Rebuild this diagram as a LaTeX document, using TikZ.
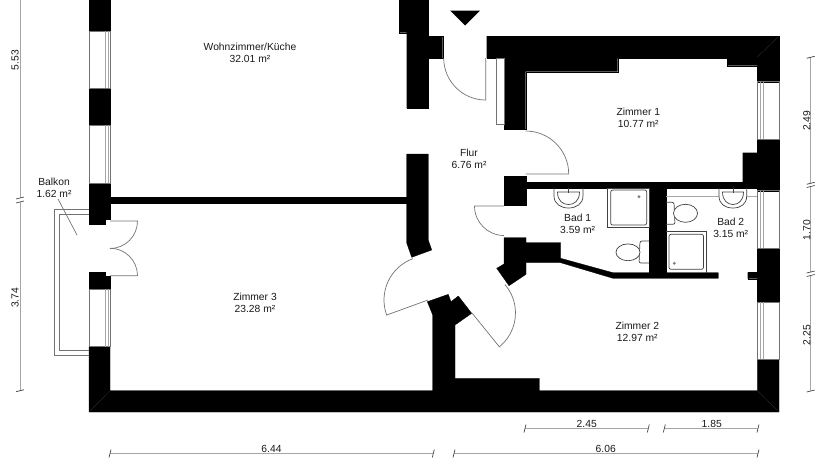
\documentclass[tikz,border=0pt]{standalone}
\usepackage{fontspec}
\setmainfont{Liberation Sans}
\tikzset{
    wall/.style={fill=black,draw=black,line width=0.3pt},
    thinline/.style={draw=black!55,line width=0.7pt},
    fixture/.style={draw=black!75,line width=0.7pt},
    measure/.style={draw=black!35,line width=1pt},
    tick/.style={draw=black!75,line width=0.7pt},
    roomlabel/.style={font=\fontsize{10.3}{12}\selectfont,text=black!90,align=center,inner sep=0pt},
}

\begin{document}
\begin{tikzpicture}[x=1pt,y=-1pt]
    \useasboundingbox (0,0) rectangle (835,467);

    % walls
    \fill[wall] (89,0) -- (110,0) -- (110,31) -- (89,31) -- cycle;
    \fill[wall] (89,88) rectangle (110,125);
    \fill[wall] (89,183) -- (110,183) -- (110,219.5) -- (105,219.5) -- (105,224) -- (89,224) -- cycle;
    \fill[wall] (89,272) -- (105,272) -- (105,276.5) -- (110,276.5) -- (110,289) -- (89,289) -- cycle;
    \fill[wall] (110,197.5) rectangle (407,203.5);
    \fill[wall] (399,0) -- (428.3,0) -- (428.3,36) -- (442.7,36) -- (442.7,58) -- (428.3,58) -- (428.3,108) -- (406.7,108) -- (406.7,32.7) -- (399,32.7) -- cycle;
    \fill[wall] (406.7,154) -- (428.3,154) -- (428.3,240) -- (431.7,250) -- (411.7,257.3) -- (406.7,243) -- cycle;
    \fill[wall] (89,346.7) -- (110,346.7) -- (110,390.7) -- (432.7,390.7) -- (432.7,315) -- (427.3,301.7) -- (448.3,294.3) -- (451,301.7) -- (458.3,296) -- (471.7,313.3) -- (455,325) -- (455,378.3) -- (539.3,378.3) -- (539.3,390.7) -- (757.3,390.7) -- (757.3,359.3) -- (779,359.3) -- (779,412) -- (89,412) -- cycle;
    \fill[wall] (486.7,36) -- (779,36) -- (779,81.7) -- (757.3,81.7) -- (757.3,65.7) -- (727.3,65.7) -- (727.3,58.3) -- (617.7,58.3) -- (617.7,71.7) -- (525.7,71.7) -- (525.7,129) -- (504,129) -- (504,58) -- (486.7,58) -- cycle;
    \fill[wall] (757.3,139) -- (779,139) -- (779,190.7) -- (757.3,190.7) -- (757.3,188) -- (526,188) -- (526,205) -- (504,205) -- (504,176) -- (526,176) -- (526,182.3) -- (742.7,182.3) -- (742.7,152.7) -- (757.3,152.7) -- cycle;
    \fill[wall] (757.3,248.3) -- (779,248.3) -- (779,302.3) -- (757.3,302.3) -- (757.3,278.7) -- (747.7,278.7) -- (747.7,272.3) -- (757.3,272.3) -- cycle;
    \fill[wall] (504,237.7) -- (526,237.7) -- (526,242.7) -- (560.7,242.7) -- (560.7,258.3) -- (613,272.7) -- (718.3,272.7) -- (718.3,278.3) -- (613,278.3) -- (560.7,262.7) -- (526,262.7) -- (526,274.3) -- (509,285.7) -- (496.7,268.3) -- (504,264) -- cycle;
    \fill[wall] (649,188) rectangle (665.7,273);
    \fill[black] (450,10.5) -- (480,10.5) -- (465,25.5) -- cycle;
    % wall corners
    \draw[black!80,line width=0.3pt] (89,412) -- (110,390.7) (779,412) -- (757.3,390.7) (779,36) -- (757.3,57);

    % windows
    \foreach \ya/\yb in {31/88,125/183,289/346.7} {
        \draw[thinline] (89,\ya) rectangle (110,\yb);
        \draw[thinline,draw=black!35] (105,\ya) -- (105,\yb) (108.5,\ya) -- (108.5,\yb);
    }
    \foreach \ya/\yb in {81.7/139,190.7/248.3,302.3/359.3} {
        \draw[thinline] (757.3,\ya) rectangle (779,\yb);
        \draw[thinline,draw=black!35] (760,\ya) -- (760,\yb) (763.5,\ya) -- (763.5,\yb);
    }
    \draw[thinline] (496.7,58) rectangle (504,124.3);

    % balcony
    \draw[thinline] (89,209.5) -- (54,209.5) -- (54,355) -- (89,355);
    \draw[thinline] (89,214.5) -- (59.5,214.5) -- (59.5,350) -- (89,350);
    \draw[thinline] (58,199) -- (77,235);

    % doors
    \draw[thinline] (110,221) -- (137.5,221) arc[start angle=0,end angle=90,radius=27.5];
    \draw[thinline] (110,275.7) -- (137.5,275.7) arc[start angle=0,end angle=-90,radius=27.5];
    \draw[thinline] (485.7,58) -- (485.7,100) arc[start angle=90,end angle=180,radius=42];
    \draw[thinline] (525.7,174) -- (568.7,174) arc[start angle=0,end angle=-90,radius=43];
    \draw[thinline] (504,206) -- (474.5,206) arc[start angle=180,end angle=90,radius=29.5];
    \draw[thinline] (428,300) -- ++(160:44) arc[start angle=160,end angle=250,radius=44];
    \draw[thinline] (472,313) -- ++(51:43.5) arc[start angle=51,end angle=-41,radius=43.5];

    % bad 1
    \draw[fixture] (607.7,188) rectangle (649,227.7);
    \draw[fixture,rounded corners=2pt] (610.7,190) rectangle (646.7,225);
    \fill[black!50] (639,196.7) circle[radius=1.6];
    \draw[fixture] (554,188) -- (554,196) .. controls (554,204) and (561,208) .. (568.5,208) .. controls (576,208) and (583,204) .. (583,196) -- (583,188);
    \draw[fixture] (557.5,192) .. controls (557.5,201) and (563,204.5) .. (568.5,204.5) .. controls (574,204.5) and (579.5,201) .. (579.5,192) -- cycle;
    \draw[fixture,line width=1pt] (568.5,188) -- (568.5,193);
    \draw[fixture,rounded corners=2pt] (649,241) -- (640,241) -- (639,263) -- (649,263);
    \draw[fixture,fill=white] (628,252.3) ellipse[x radius=12,y radius=8.4];

    % bad 2
    \draw[thinline,draw=black!35] (665.7,196.3) -- (719,196.3) (746.7,196.3) -- (757.3,196.3);
    \draw[fixture] (665.7,231.7) -- (706,231.7) -- (706,272.7);
    \draw[fixture,rounded corners=2pt] (669,234.3) rectangle (703.5,269.3);
    \fill[black!50] (674.3,263.3) circle[radius=1.6];
    \draw[fixture] (719,188) -- (719,196) .. controls (719,204) and (725,208) .. (733,208) .. controls (741,208) and (746.7,204) .. (746.7,196) -- (746.7,188);
    \draw[fixture] (722.5,192) .. controls (722.5,201) and (728,204.5) .. (733,204.5) .. controls (738,204.5) and (743.5,201) .. (743.5,192) -- cycle;
    \draw[fixture,line width=1pt] (733,188) -- (733,193);
    \draw[fixture,rounded corners=2pt] (665.7,202.3) -- (674,202.3) -- (675,224.3) -- (665.7,224.3);
    \draw[fixture,fill=white] (685.5,213.3) ellipse[x radius=12,y radius=9];

    % measures
    \draw[measure] (20,0) -- (20,198);
    \draw[measure] (20,202) -- (20,390.7);
    \draw[measure] (810.7,57.3) -- (810.7,183.3);
    \draw[measure] (810.7,186.5) -- (810.7,272);
    \draw[measure] (810.7,275.5) -- (810.7,391);
    \draw[measure] (110,453.5) -- (433.3,453.5);
    \draw[measure] (454,453.5) -- (758,453.5);
    \draw[measure] (525,428.5) -- (648.3,428.5);
    \draw[measure] (664.3,428.5) -- (758,428.5);
    \foreach \xa/\ya in {20/198,20/202,20/390.7,810.7/57.3,810.7/183.3,810.7/186.5,810.7/272,810.7/275.5,810.7/391}
        \draw[tick] (\xa-4,\ya+1) -- (\xa+4,\ya-1);
    \foreach \xa/\ya in {110/453.5,433.3/453.5,454/453.5,758/453.5,525/428.5,648.3/428.5,664.3/428.5,758/428.5}
        \draw[tick] (\xa-1,\ya+4) -- (\xa+1,\ya-4);

    \node[roomlabel,rotate=90] (len553) at (15,60) {5.53};
    \node[roomlabel,rotate=90] (len374) at (15,297.7) {3.74};
    \node[roomlabel,rotate=90] (len249) at (806.7,120.7) {2.49};
    \node[roomlabel,rotate=90] (len170) at (806.7,230) {1.70};
    \node[roomlabel,rotate=90] (len225) at (806.7,335) {2.25};
    \node[roomlabel] (len644) at (271.5,449) {6.44};
    \node[roomlabel] (len606) at (605.7,449) {6.06};
    \node[roomlabel] (len245) at (586.7,424) {2.45};
    \node[roomlabel] (len185) at (711.7,424) {1.85};

    % rooms
    \node[roomlabel] (wohnen) at (250,53) {Wohnzimmer/Küche\\32.01 m²};
    \node[roomlabel] (balkon) at (54,187.5) {Balkon\\1.62 m²};
    \node[roomlabel] (zimmer3) at (255,302.5) {Zimmer 3\\23.28 m²};
    \node[roomlabel] (flur) at (469,159) {Flur\\6.76 m²};
    \node[roomlabel] (zimmer1) at (638.3,118) {Zimmer 1\\10.77 m²};
    \node[roomlabel] (zimmer2) at (637.3,331.5) {Zimmer 2\\12.97 m²};
    \node[roomlabel] (bad1) at (577.7,224) {Bad 1\\3.59 m²};
    \node[roomlabel] (bad2) at (730.7,227.5) {Bad 2\\3.15 m²};
\end{tikzpicture}
\end{document}
